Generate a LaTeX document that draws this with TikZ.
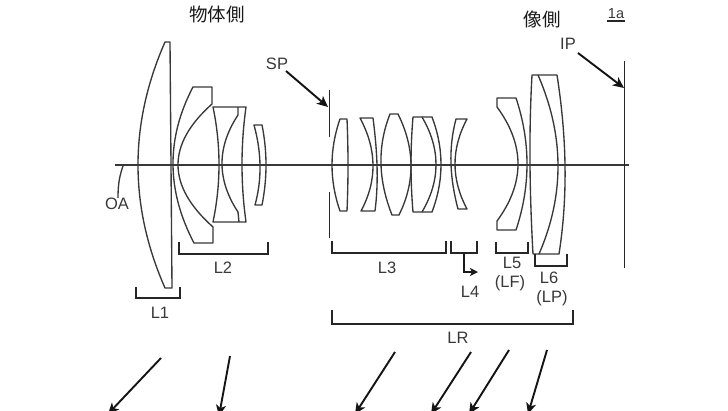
\documentclass[tikz,border=0pt]{standalone}
\usepackage{fontspec}
\setmainfont{Liberation Sans}
\newfontfamily\cjkfont{Noto Sans CJK JP}
\usetikzlibrary{arrows.meta}
\newcommand{\bow}[5]{.. controls ({#1+4/3*(#3-(#1+#4)/2)},{#2+(#5-#2)/3}) and ({#4+4/3*(#3-(#1+#4)/2)},{#5-(#5-#2)/3}) .. (#4,#5)}
\tikzset{
  lens/.style={draw=black!78,line width=1.35pt,line join=round},
  axisline/.style={draw=black!78,line width=1.3pt},
  plane/.style={draw=black!85,line width=1.7pt},
  brk/.style={draw=black!85,line width=1.5pt},
  ptr/.style={draw=black!92,line width=1.9pt,-{Stealth[length=11pt,width=10pt,inset=3pt]}},
  lbl/.style={font=\fontsize{16.5}{18}\selectfont,text=black!78,inner sep=0pt},
  cjklbl/.style={font=\cjkfont\fontsize{18.5}{20}\selectfont,text=black!90,inner sep=0pt}
}
\begin{document}
\begin{tikzpicture}[x=1pt,y=-1pt]
\useasboundingbox (0,0) rectangle (728,410);
\clip (0,0) rectangle (728,410);
% axis
\coordinate (axL) at (115,165); \coordinate (axR) at (629,165);
\draw[axisline] (axL) -- (axR);
% L1
\draw[lens] (165,42) -- (170,42) -- (172,288) -- (165,288) \bow{165}{288}{138}{165}{42} -- cycle;
% L2 meniscus
\draw[lens] (193,87) -- (212,87) -- (212,104) \bow{212}{104}{178}{213}{227} -- (213,243) -- (194,243) \bow{194}{243}{173}{193}{87} -- cycle;
% L2 doublet
\draw[lens] (213,107) -- (246,107) \bow{246}{107}{242}{246}{222} -- (213,222) \bow{213}{222}{219}{213}{107} -- cycle;
\draw[lens] (238,107) -- (238,115) \bow{238}{115}{222}{238}{212} -- (239,222);
% L2 small
\draw[lens] (254,125) -- (262,125) \bow{262}{125}{266}{262}{205} -- (255,205) \bow{255}{205}{260}{254}{125} -- cycle;
% stop
\draw[plane] (329.5,90) -- (329.5,137);
\draw[plane] (329.5,192) -- (329.5,238);
% L3
\draw[lens] (340,119) -- (347,119) \bow{347}{119}{348}{347}{211} -- (340,211) \bow{340}{211}{332}{340}{119} -- cycle;
\draw[lens] (360,118) -- (373,118) \bow{373}{118}{377}{375}{211} -- (361,211) \bow{361}{211}{373}{360}{118} -- cycle;
\draw[lens] (390,114) -- (398,114) \bow{398}{114}{411}{399}{215} -- (392,215) \bow{392}{215}{381}{390}{114} -- cycle;
\draw[lens] (413,117) -- (432,117) \bow{432}{117}{441}{432}{212} -- (413,212) \bow{413}{212}{411}{413}{117} -- cycle;
\draw[lens] (422,117) \bow{422}{117}{436}{422}{212};
% L4
\draw[lens] (456,119) -- (467,119) \bow{467}{119}{455}{467}{209} -- (458,209) \bow{458}{209}{451}{456}{119} -- cycle;
% L5
\draw[lens] (497,98) -- (516,98) \bow{516}{98}{527}{516}{230} -- (497,230) -- (497,221) \bow{497}{221}{518}{497}{107} -- cycle;
% L6
\draw[lens] (532,75) -- (557,75) \bow{557}{75}{565}{559}{254} -- (533,254) \bow{533}{254}{530}{532}{75} -- cycle;
\draw[lens] (538,75) \bow{538}{75}{558}{539}{254};
% image plane
\draw[plane] (624.5,61) -- (624.5,268);
% brackets
\draw[brk] (136,287) |- (180,298) -- (180,287);
\draw[brk] (179,242) |- (268,254) -- (268,242);
\draw[brk] (332,241) |- (446,253) -- (446,241);
\draw[brk] (451,241) |- (477,253) -- (477,241);
\draw[brk] (496,242) |- (528,253) -- (528,242);
\draw[brk] (535,254) |- (567,266) -- (567,254);
\draw[brk] (332,310) |- (573,324) -- (573,310);
% OA leader
\node[lbl] (oa) at (117,204) {OA};
\coordinate (oaAx) at (123,166);
\draw[lens] (oaAx) .. controls (120,175) and (118,182) .. (oa.north -| 118,0);
% labels
\node[cjklbl] (obj) at (217,14) {物体側};
\node[cjklbl] (img) at (542,19) {像側};
\node[lbl,font=\fontsize{14.5}{16}\selectfont] (ia) at (616,14) {1a};
\draw[draw=black!85,line width=1.1pt] (607,21) -- (625,21);
\node[lbl] (sp) at (277,64) {SP};
\node[lbl] (ip) at (568,44) {IP};
\node[lbl] (l1) at (160,313) {L1};
\node[lbl] (l2) at (223,268) {L2};
\node[lbl] (l3) at (387,268) {L3};
\node[lbl] (l4) at (470,292) {L4};
\node[lbl] (l5) at (512,263) {L5};
\node[lbl] (lf) at (510,283) {(LF)};
\node[lbl] (l6) at (549,278) {L6};
\node[lbl] (lp) at (552,298) {(LP)};
\node[lbl] (lr) at (458,338) {LR};
% pointers
\coordinate (spA) at (286,71); \coordinate (spB) at (328,107);
\draw[ptr] (spA) -- (spB);
\coordinate (ipA) at (578,53); \coordinate (ipB) at (624,88);
\draw[ptr] (ipA) -- (ipB);
\coordinate (l4A) at (464,253); \coordinate (l4B) at (464,272); \coordinate (l4C) at (478,272);
\draw[draw=black!90,line width=1.5pt,-{Stealth[length=8pt,width=8pt,inset=2pt]}] (l4A) -- (l4B) -- (l4C);
% lower pointers
\coordinate (a1) at (161,358); \coordinate (b1) at (108,414);
\coordinate (a2) at (230,356); \coordinate (b2) at (219,416);
\coordinate (a3) at (395,352); \coordinate (b3) at (355,414);
\coordinate (a4) at (471,352); \coordinate (b4) at (431,414);
\coordinate (a5) at (509,350); \coordinate (b5) at (469,414);
\coordinate (a6) at (547,350); \coordinate (b6) at (528,414);
\foreach \i in {1,...,6} \draw[ptr] (a\i) -- (b\i);
\end{tikzpicture}
\end{document}
